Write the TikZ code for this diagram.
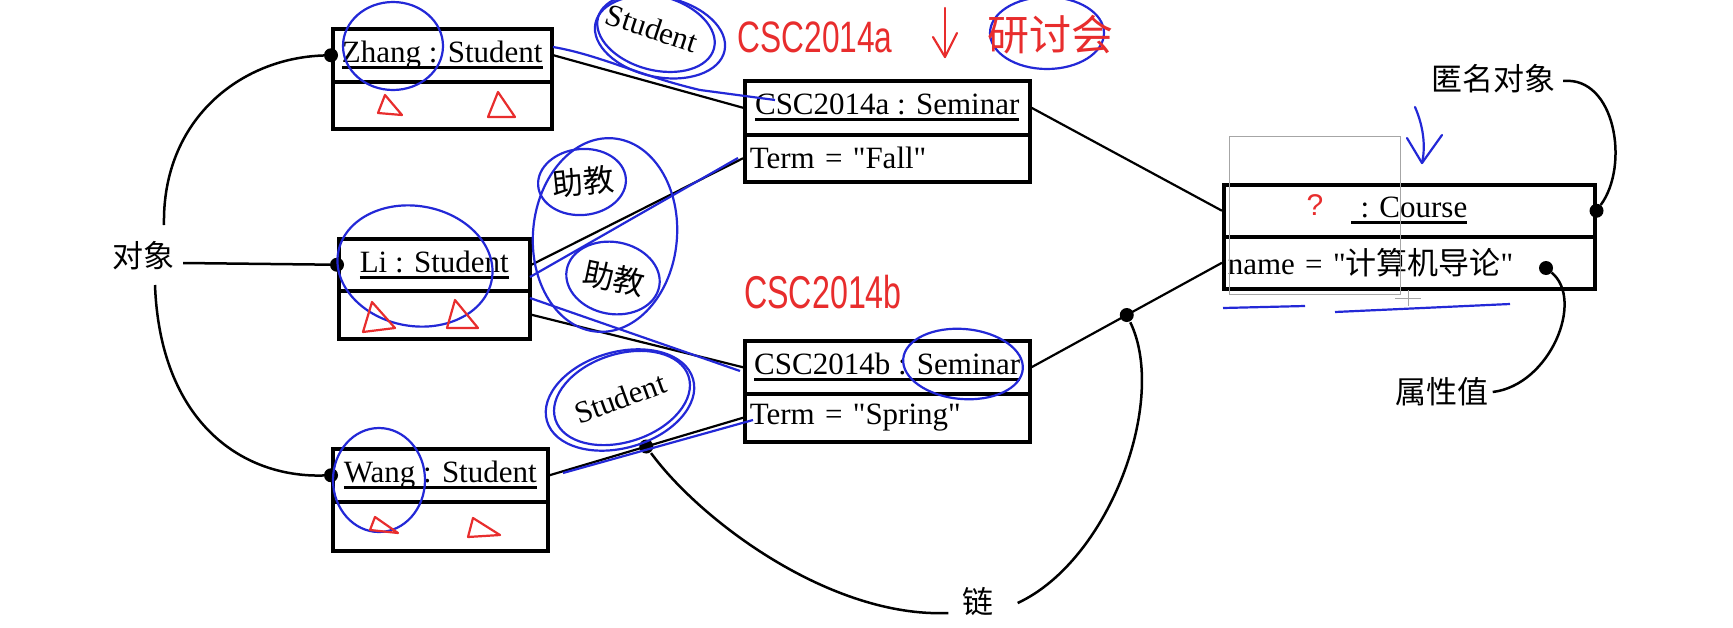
\documentclass[tikz,border=0pt]{standalone}
\usepackage{fontspec}
\setmainfont{Liberation Serif}[Ligatures=TeXOff]
\newfontfamily\cjk{Noto Sans CJK SC}
\newfontfamily\handfont{Liberation Sans}
\usetikzlibrary{calc}
\newcommand\ulbox[1]{\setbox0=\hbox{#1}\rlap{\rule[-0.2em]{\wd0}{0.09em}}\box0}
\definecolor{penblue}{RGB}{35,40,215}
\definecolor{penred}{RGB}{232,45,45}
\begin{document}
\begin{tikzpicture}[x=1pt,y=-1pt, font=\fontsize{31}{36}\selectfont,
  objbox/.style={draw, line width=3.5pt, rectangle, inner sep=0pt, anchor=north west},
  link/.style={draw, line width=2.2pt},
  curve/.style={draw, line width=2.5pt},
  dot/.style={circle, fill=black, inner sep=0pt, minimum size=14pt},
  lbl/.style={font=\cjk\fontsize{31}{36}\selectfont, inner sep=0pt},
  bpen/.style={draw=penblue, line width=2.2pt},
  rpen/.style={draw=penred, line width=2.2pt, line join=round},
  hand/.style={text=penred, inner sep=0pt}]
\fill[white] (0,0) rectangle (1733,627);
\useasboundingbox (0,0) rectangle (1733,627);

% ---- object boxes ----
\node[objbox, minimum width=219pt, minimum height=53pt] (zhang) at (331,27) {\ulbox{Zhang : Student}};
\node[objbox, minimum width=219pt, minimum height=47pt] (zhangA) at (331,80) {};
\node[objbox, minimum width=191pt, minimum height=52pt] (li) at (337,237) {\ulbox{Li : Student}};
\node[objbox, minimum width=191pt, minimum height=48pt] (liA) at (337,289) {};
\node[objbox, minimum width=215pt, minimum height=53pt] (wang) at (331,447) {\ulbox{Wang : Student}};
\node[objbox, minimum width=215pt, minimum height=49pt] (wangA) at (331,500) {};
\node[objbox, minimum width=285pt, minimum height=54pt] (csca) at (743,79) {\ulbox{CSC2014a : Seminar}};
\node[objbox, minimum width=285pt, minimum height=47pt, text width=275pt, inner xsep=5pt, align=left] (cscaA) at (743,133) {Term = "Fall"};
\node[objbox, minimum width=285pt, minimum height=53pt] (cscb) at (743,339) {\ulbox{CSC2014b : Seminar}};
\node[objbox, minimum width=285pt, minimum height=48pt, text width=275pt, inner xsep=5pt, align=left] (cscbA) at (743,392) {Term = "Spring"};
\node[objbox, minimum width=371pt, minimum height=52pt] (course) at (1222,183) {\ulbox{\hspace{0.3em}: Course}};
\node[objbox, minimum width=371pt, minimum height=52pt, text width=363pt, inner xsep=4pt, align=left] (courseA) at (1222,235) {name = "{\cjk 计算机导论}"};

% ---- links ----
\draw[link] (zhang.east) -- (csca.west);
\draw[link] (li.east) -- (cscaA.west);
\draw[link] (liA.east) -- (cscb.west);
\draw[link] (wang.east) -- node[dot, pos=0.5] (ch1) {} (cscbA.west);
\draw[link] (csca.east) -- (course.west);
\draw[link] (cscb.east) -- node[dot, pos=0.5] (ch2) {} (courseA.west);

% ---- dots ----
\node[dot] (zdot) at (zhang.west) {};
\node[dot] (ldot) at (li.west) {};
\node[dot] (wdot) at (wang.west) {};
\node[dot] (cdot) at (course.east) {};
\node[dot] (vdot) at (1546,268) {};

% ---- labels ----
\node[lbl] (obj) at (143,256) {对象};
\node[lbl] (anon) at (1493,79) {匿名对象};
\node[lbl] (attv) at (1442,392) {属性值};
\node[lbl] (lnk) at (978,602) {链};

\draw[curve] ($(obj.center)+(21,-31)$) .. controls (162,120) and (240,58) .. (zdot);
\draw[curve] ($(obj.center)+(12,29)$) .. controls (160,420) and (240,478) .. (wdot);
\draw[curve] ($(obj.east)+(9,7)$) -- (ldot);
\draw[curve] (ch1) .. controls (700,520) and (830,618) .. ($(lnk.west)+(-14,11)$);
\draw[curve] ($(lnk.east)+(24,1)$) .. controls (1110,560) and (1168,400) .. (ch2);
\draw[curve] ($(anon.east)+(8,2)$) .. controls (1615,76) and (1630,165) .. (cdot);
\draw[curve] ($(attv.east)+(4,0)$) .. controls (1550,385) and (1585,300) .. (vdot);

% ---- role names ----
\node[rotate=-18, inner sep=0pt] (r1) at (652,28) {Student};
\node[rotate=20, inner sep=0pt] (r2) at (620,398) {Student};
\node[lbl, rotate=6] (r3) at (583,182) {助教};
\node[lbl, rotate=-12] (r4) at (614,278) {助教};

% ---- hand annotations: blue ----
\draw[bpen] (393,46) ellipse [x radius=50, y radius=44];
\draw[bpen, rotate around={-10:(415,266)}] (415,266) ellipse [x radius=78, y radius=60];
\draw[bpen] (379,480) ellipse [x radius=46, y radius=52];
\draw[bpen, rotate around={-15:(656,33)}] (656,33) ellipse [x radius=60, y radius=37];
\draw[bpen, rotate around={-12:(660,37)}] (660,37) ellipse [x radius=66, y radius=40];
\draw[bpen, rotate around={18:(622,398)}] (622,398) ellipse [x radius=70, y radius=44];
\draw[bpen, rotate around={16:(620,400)}] (620,400) ellipse [x radius=76, y radius=48];
\draw[bpen, rotate around={5:(582,182)}] (582,182) ellipse [x radius=44, y radius=33];
\draw[bpen, rotate around={-10:(613,278)}] (613,278) ellipse [x radius=47, y radius=36];
\draw[bpen, rotate around={-5:(605,235)}] (605,235) ellipse [x radius=72, y radius=97];
\draw[bpen, rotate around={-5:(963,364)}] (963,364) ellipse [x radius=60, y radius=35];
\draw[bpen] (1047,33) ellipse [x radius=57, y radius=36];
\draw[bpen] (553,47) .. controls (600,55) and (640,76) .. (700,90) -- (775,100);
\draw[bpen] (530,277) -- (738,158);
\draw[bpen] (530,298) -- (740,371);
\draw[bpen] (563,473) -- (753,420);
\draw[bpen] (1223,308) -- (1305,306);
\draw[bpen] (1335,312) -- (1510,304);
\draw[bpen, line cap=round] (1415,107) .. controls (1425,130) and (1425,150) .. (1422,163);
\draw[bpen, line cap=round, line join=round] (1407,138) -- (1422,163) -- (1442,135);

% ---- hand annotations: red ----
\draw[rpen] (378,113) -- (385,95) -- (402,115) -- cycle;
\draw[rpen] (488,117) -- (498,92) -- (515,117) -- cycle;
\draw[rpen] (363,332) -- (372,302) -- (395,328) -- cycle;
\draw[rpen] (447,328) -- (455,300) -- (478,328) -- cycle;
\draw[rpen] (370,530) -- (375,517) -- (398,533) -- cycle;
\draw[rpen] (468,537) -- (473,518) -- (500,535) -- cycle;
\node[hand, font=\handfont\fontsize{44}{44}\selectfont, xscale=0.72] (a1) at (815,37) {CSC2014a};
\draw[rpen, line cap=round] (945,8) -- (945,57);
\draw[rpen, line cap=round] (933,37) -- (945,57) -- (957,33);
\node[hand, font=\cjk\fontsize{42}{42}\selectfont] (a2) at (1050,35) {研讨会};
\node[hand, font=\handfont\fontsize{46}{46}\selectfont, xscale=0.7] (a3) at (823,292) {CSC2014b};
\node[hand, font=\handfont\fontsize{30}{30}\selectfont] (a4) at (1315,205) {?};

% ---- screen marks ----
\draw[gray!70, line width=1pt] (1229,136) rectangle (1400,294);
\draw[gray!70, line width=1pt] (1395,298) -- (1421,298) (1408,290) -- (1408,306);
\end{tikzpicture}
\end{document}
